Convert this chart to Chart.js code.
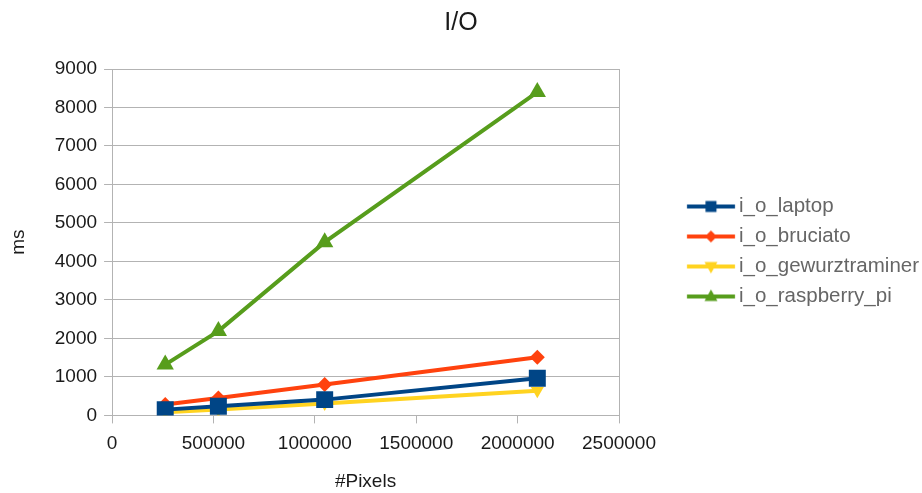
<!DOCTYPE html>
<html>
<head>
<meta charset="utf-8">
<script src="https://cdn.jsdelivr.net/npm/chart.js@4/dist/chart.umd.min.js"></script>
<style>
  html, body { margin: 0; padding: 0; background: #fff; }
  #wrap { width: 922px; height: 493px; }
</style>
</head>
<body>
<div id="wrap"><canvas id="chart" width="922" height="493"></canvas></div>
<script>
// pixel counts (x) and timings in ms (y)
const pixels = [262144, 524288, 1048576, 2097152];
const laptop = [150, 235, 410, 965];
const bruciato = [285, 450, 800, 1510];
const gewurztraminer = [85, 150, 310, 640];
const raspberryPi = [1320, 2190, 4500, 8400];

const seriesNames = ['i_o_laptop', 'i_o_bruciato', 'i_o_gewurztraminer', 'i_o_raspberry_pi'];
const seriesColors = ['#004586', '#ff420e', '#ffd320', '#579d1c'];

const FONT = 'Liberation Sans, Arial, sans-serif';
const GRID = '#b3b3b3';
const TEXT = '#1a1a1a';

const LEGEND_FONT = 20.5;
const LEGEND_PAD = 9.5;
const BOX_W = 100.25;

// legend icon: a short line with the marker in the middle
function legendIcon(color, shape) {
    const end = BOX_W / 2 + LEGEND_FONT / 2 - 4;
    const start = end - 48;
    const w = Math.ceil(end * 2 + 2), h = 20;
    const c = document.createElement('canvas');
    c.width = w; c.height = h;
    const g = c.getContext('2d');
    const cx = w / 2;
    g.strokeStyle = color; g.fillStyle = color; g.lineWidth = 4;
    g.beginPath(); g.moveTo(cx + start, h / 2); g.lineTo(cx + end, h / 2); g.stroke();
    const mx = cx + (start + end) / 2, my = h / 2;
    g.beginPath();
    if (shape === 'rect') {
        g.rect(mx - 5.5, my - 5.5, 11, 11);
    } else if (shape === 'rectRot') {
        g.moveTo(mx - 6, my); g.lineTo(mx, my - 6); g.lineTo(mx + 6, my); g.lineTo(mx, my + 6);
    } else if (shape === 'up') {
        g.moveTo(mx, my - 7); g.lineTo(mx + 6.5, my + 4.5); g.lineTo(mx - 6.5, my + 4.5);
    } else {
        g.moveTo(mx, my + 7); g.lineTo(mx + 6.5, my - 4.5); g.lineTo(mx - 6.5, my - 4.5);
    }
    g.closePath(); g.fill();
    return c;
}

const icons = [
    legendIcon(seriesColors[0], 'rect'),
    legendIcon(seriesColors[1], 'rectRot'),
    legendIcon(seriesColors[2], 'down'),
    legendIcon(seriesColors[3], 'up')
];

function pts(values) {
    return pixels.map((p, i) => ({ x: p, y: values[i] }));
}

function series(i, values, style, radius, rotation) {
    return {
        label: seriesNames[i], data: pts(values),
        borderColor: seriesColors[i], backgroundColor: seriesColors[i],
        borderWidth: 4, showLine: true, tension: 0,
        pointStyle: style, pointRadius: radius, pointHoverRadius: radius,
        pointRotation: rotation || 0, pointBorderWidth: 0
    };
}

const ctx = document.getElementById('chart').getContext('2d');
new Chart(ctx, {
    type: 'scatter',
    data: {
        datasets: [
            series(0, laptop, 'rect', 12),
            series(1, bruciato, 'rectRot', 7.5),
            series(2, gewurztraminer, 'triangle', 7.5, 180),
            series(3, raspberryPi, 'triangle', 10)
        ]
    },
    options: {
        responsive: false, animation: false,
        layout: { padding: { left: 0, right: 0, top: 0, bottom: 0 } },
        scales: {
            x: {
                type: 'linear', min: 0, max: 2500000,
                ticks: { stepSize: 500000, color: TEXT, font: { family: FONT, size: 19 }, padding: 9, maxRotation: 0, callback: v => String(v) },
                grid: { color: c => (c.tick && c.tick.value === 2500000) ? GRID : 'rgba(0,0,0,0)', tickColor: GRID, tickLength: 8, lineWidth: 1 },
                border: { color: GRID, width: 1 },
                title: { display: true, text: '#Pixels', color: TEXT, font: { family: FONT, size: 19 }, padding: { top: 6, bottom: 0 } }
            },
            y: {
                min: 0, max: 9000,
                ticks: { stepSize: 1000, color: TEXT, font: { family: FONT, size: 19 }, padding: 7, callback: v => String(v) },
                grid: { color: GRID, tickColor: GRID, tickLength: 8, lineWidth: 1 },
                border: { color: GRID, width: 1 },
                title: { display: true, text: 'ms', color: TEXT, font: { family: FONT, size: 19 }, padding: { top: 7, bottom: 18 } }
            }
        },
        plugins: {
            title: { display: true, text: 'I/O', color: TEXT, font: { family: FONT, size: 25, weight: 'normal' }, padding: { top: 8, bottom: 31 } },
            tooltip: { enabled: false },
            legend: {
                position: 'right', maxWidth: 303,
                title: { display: true, text: ' ', font: { size: 10, lineHeight: 1 }, padding: 0 },
                labels: {
                    usePointStyle: true, pointStyleWidth: BOX_W, padding: LEGEND_PAD,
                    color: TEXT, font: { family: FONT, size: LEGEND_FONT },
                    generateLabels: chart => chart.data.datasets.map((ds, i) => ({
                        text: ds.label, pointStyle: icons[i], fillStyle: ds.borderColor,
                        strokeStyle: ds.borderColor, lineWidth: 0, hidden: false, datasetIndex: i
                    }))
                }
            }
        }
    }
});
</script>
</body>
</html>
